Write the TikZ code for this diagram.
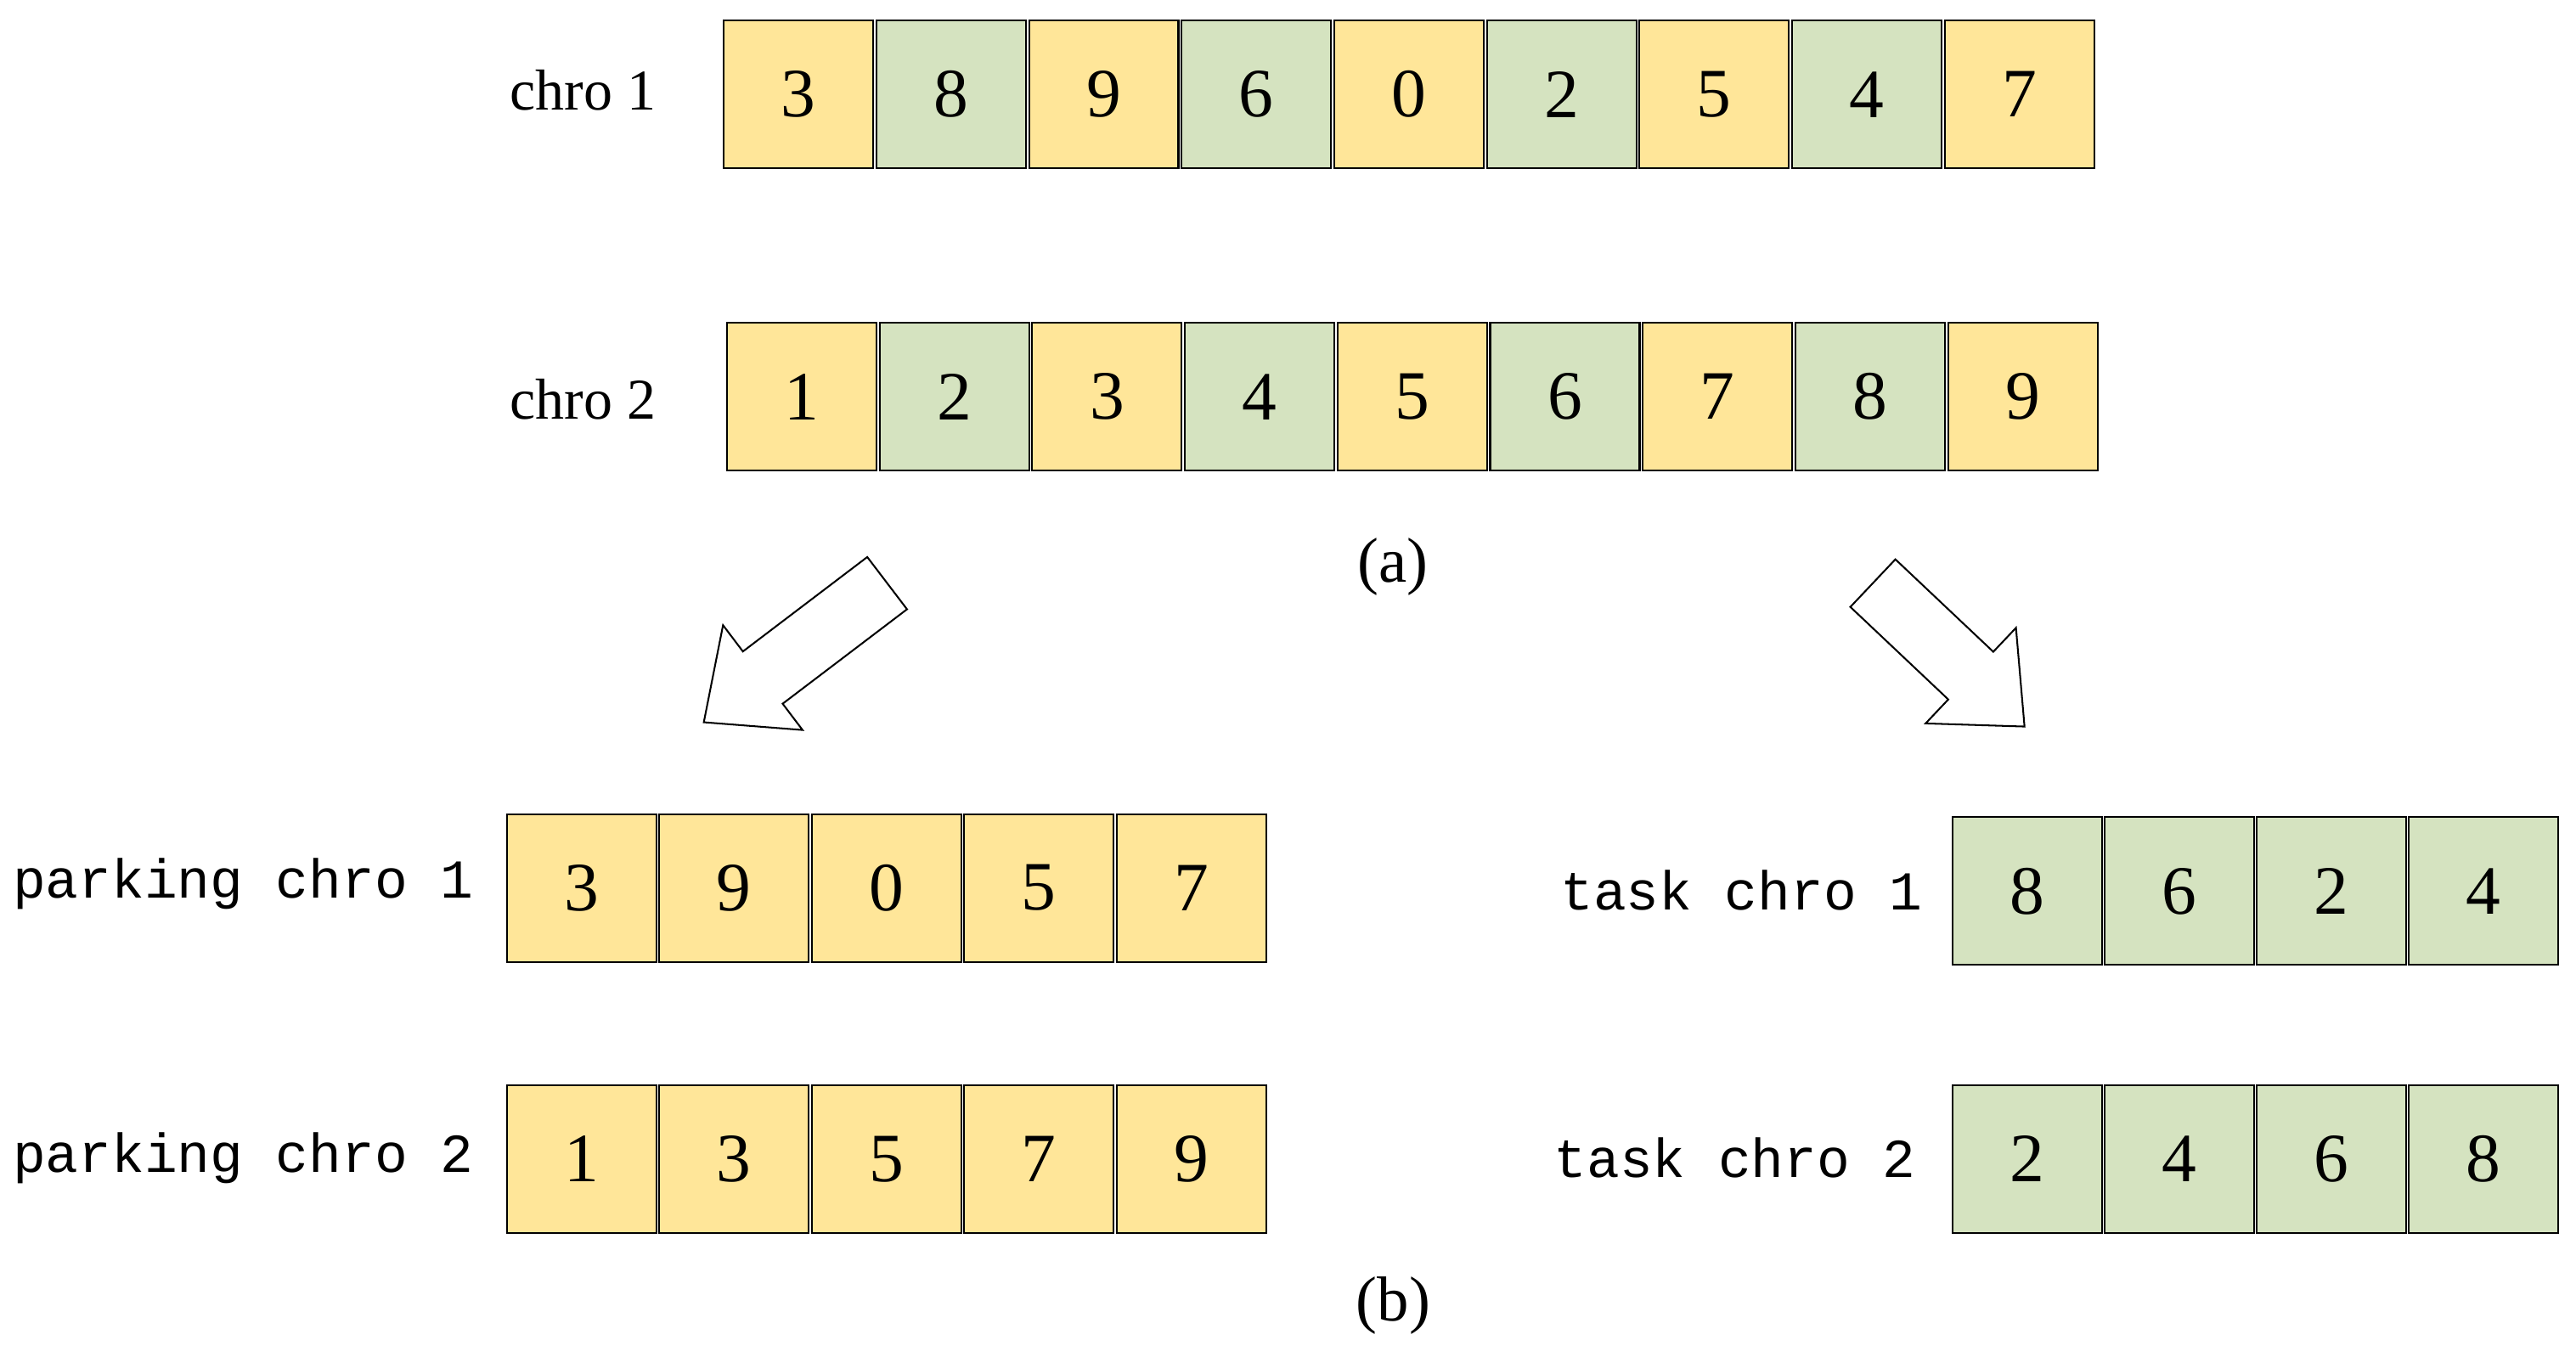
\documentclass[tikz,border=0pt]{standalone}
\usepackage{fontspec}
\setmainfont{Liberation Serif}
\newfontfamily\monof{Liberation Mono}
\definecolor{yel}{HTML}{FFE699}
\definecolor{grn}{HTML}{D5E3C0}
\begin{document}
\begin{tikzpicture}[x=0.02cm,y=-0.02cm,
  cell/.style={draw=black,line width=0.6pt,minimum width=1.82cm,minimum height=1.8cm,inner sep=0pt,font=\fontsize{24}{24}\selectfont,anchor=north west},
  lab/.style={font=\fontsize{20}{20}\selectfont},
  mlab/.style={font=\monof\fontsize{19}{19}\selectfont},
  harrow/.style={draw=black,fill=white,line width=0.6pt,line join=miter}]
\useasboundingbox (0,0) rectangle (1568,826);
% chro 1
\foreach \v [count=\i] in {3,8,9,6,0,2,5,4,7}{
  \pgfmathsetmacro{\c}{mod(\i,2)==1?1:0}
  \ifdim\c pt>0.5pt \def\col{yel}\else\def\col{grn}\fi
  \node[cell,fill=\col] (a\i) at ({440+(\i-1)*92.9},12) {\v};}
\node[lab] (la) at (355,55) {chro 1};
\foreach \v [count=\i] in {1,2,3,4,5,6,7,8,9}{
  \pgfmathsetmacro{\c}{mod(\i,2)==1?1:0}
  \ifdim\c pt>0.5pt \def\col{yel}\else\def\col{grn}\fi
  \node[cell,fill=\col] (b\i) at ({442+(\i-1)*92.9},196) {\v};}
\node[lab] (lb) at (355,243) {chro 2};
\node[lab,font=\fontsize{22}{22}\selectfont] (capa) at (848,345) {(a)};
% arrows
\draw[harrow] (552.1,370.9) -- (476.4,428.4) -- (488.5,444.4) -- (428.4,439.7) -- (440.1,380.6) -- (452.2,396.6) -- (527.9,339.1) -- cycle;
\draw[harrow] (1126.3,369.5) -- (1185.9,425.8) -- (1172.1,440.4) -- (1232.3,442.3) -- (1227.1,382.2) -- (1213.3,396.8) -- (1153.7,340.5) -- cycle;
% parking
\foreach \v [count=\i] in {3,9,0,5,7}{
  \node[cell,fill=yel] (p\i) at ({308+(\i-1)*92.8},495) {\v};}
\foreach \v [count=\i] in {1,3,5,7,9}{
  \node[cell,fill=yel] (q\i) at ({308+(\i-1)*92.8},660) {\v};}
\node[mlab] (lp1) at (148,538) {parking chro 1};
\node[mlab] (lp2) at (148,705) {parking chro 2};
% task
\foreach \v [count=\i] in {8,6,2,4}{
  \node[cell,fill=grn] (t\i) at ({1188+(\i-1)*92.6},497) {\v};}
\foreach \v [count=\i] in {2,4,6,8}{
  \node[cell,fill=grn] (s\i) at ({1188+(\i-1)*92.6},660) {\v};}
\node[mlab] (lt1) at (1060,542) {task chro 1};
\node[mlab] (lt2) at (1056,705) {task chro 2};
\node[lab,font=\fontsize{22}{22}\selectfont] (capb) at (848,795) {(b)};
\end{tikzpicture}
\end{document}
